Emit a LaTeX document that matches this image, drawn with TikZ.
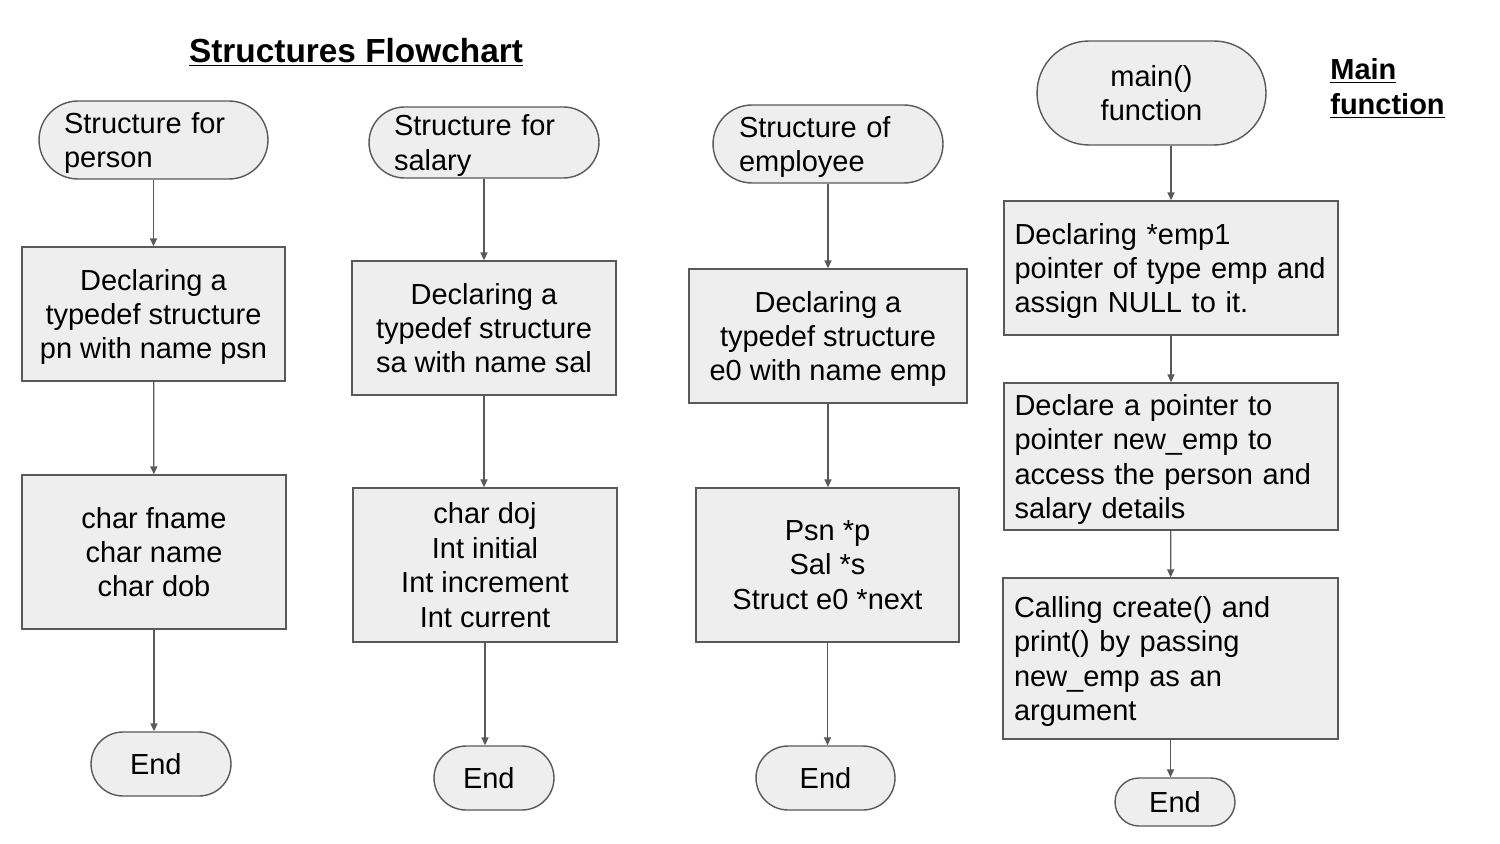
\documentclass[tikz,border=0pt]{standalone}
\usepackage{fontspec}
\setmainfont{Liberation Sans}
\usetikzlibrary{arrows.meta}
\definecolor{boxfill}{HTML}{EEEEEE}
\definecolor{boxline}{HTML}{595959}
\begin{document}
\begin{tikzpicture}[
	x=0.02cm, y=-0.02cm,
	every node/.style={ font=\fontsize{16.5}{19.6}\selectfont },
	terminal/.style={ draw=boxline, fill=boxfill, line width=0.8pt, rounded corners=#1, minimum height={2*#1}, inner sep=0pt, text depth=0pt },
	process/.style={ draw=boxline, fill=boxfill, line width=0.8pt, inner sep=0pt, align=center, text depth=0pt },
	processl/.style={ draw=boxline, fill=boxfill, line width=0.8pt, inner sep=0pt, align=left, text width=6.26cm },
	arrow/.style={ draw=boxline, line width=0.7pt, -{Triangle[length=4.5pt,width=4pt]} }
]
\useasboundingbox (0,0) rectangle (1500,844);

% titles
\node at (356,52) (title) [font=\fontsize{19}{22}\selectfont\bfseries] {\underline{Structures Flowchart}};
\node at (1330,88.5) (maintitle) [anchor=west, align=left, inner sep=0pt] {\bfseries\underline{Main}\\\bfseries\underline{function}};

% structure for person
\node at (153.5,140) (s1) [terminal=0.78cm, minimum width=4.58cm, text width=3.58cm, align=left, text depth=19.6pt] {Structure for\\person};
\node at (153.5,314) (d1) [process, minimum width=5.26cm, minimum height=2.68cm] {Declaring a\\typedef structure\\pn with name psn};
\node at (154,552) (f1) [process, minimum width=5.28cm, minimum height=3.08cm] {char fname\\char name\\char dob};
\node at (161,764) (e1) [terminal=0.64cm, minimum width=2.8cm, text width=1.24cm, align=left] {End};
\draw[arrow] (s1) to (d1);
\draw[arrow] (d1) to (f1);
\draw[arrow] (f1.south) to (f1.south |- e1.north);

% structure for salary
\node at (484,142.5) (s2) [terminal=0.71cm, minimum width=4.6cm, text width=3.6cm, align=left, text depth=19.6pt] {Structure for\\salary};
\node at (484,328) (d2) [process, minimum width=5.28cm, minimum height=2.68cm] {Declaring a\\typedef structure\\sa with name sal};
\node at (485,565) (f2) [process, minimum width=5.28cm, minimum height=3.08cm] {char doj\\Int initial\\Int increment\\Int current};
\node at (494,778) (e2) [terminal=0.64cm, minimum width=2.4cm, text width=1.24cm, align=left] {End};
\draw[arrow] (s2) to (d2);
\draw[arrow] (d2.south) to (d2.south |- f2.north);
\draw[arrow] (f2.south) to (f2.south |- e2.north);

% structure of employee
\node at (828,144) (s3) [terminal=0.78cm, minimum width=4.6cm, text width=3.56cm, align=left, text depth=19.6pt] {Structure of\\employee};
\node at (828,336) (d3) [process, minimum width=5.56cm, minimum height=2.68cm] {Declaring a\\typedef structure\\e0 with name emp};
\node at (827.5,565) (f3) [process, minimum width=5.26cm, minimum height=3.08cm] {Psn *p\\Sal *s\\Struct e0 *next};
\node at (825.5,778) (e3) [terminal=0.64cm, minimum width=2.78cm] {End};
\draw[arrow] (s3) to (d3);
\draw[arrow] (d3.south) to (d3.south |- f3.north);
\draw[arrow] (f3.south) to (f3.south |- e3.north);

% main function
\node at (1151.5,93) (s4) [terminal=1.04cm, minimum width=4.58cm, align=center] {main()\\function};
\node at (1171,268) (m1) [processl, minimum width=6.68cm, minimum height=2.68cm, text depth=39.2pt] {Declaring *emp1\\pointer of type emp and\\assign NULL to it.};
\node at (1171,456.5) (m2) [processl, minimum width=6.68cm, minimum height=2.94cm, text depth=58.8pt] {Declare a pointer to\\pointer new\_emp to\\access the person and\\salary details};
\node at (1170.5,658.5) (m3) [processl, minimum width=6.7cm, minimum height=3.22cm, text depth=58.8pt] {Calling create() and\\print() by passing\\new\_emp as an\\argument};
\node at (1175,802) (e4) [terminal=0.48cm, minimum width=2.4cm] {End};
\draw[arrow] (m1.north |- s4.south) to (m1.north);
\draw[arrow] (m1) to (m2);
\draw[arrow] (m2) to (m3);
\draw[arrow] (m3.south) to (m3.south |- e4.north);

\end{tikzpicture}
\end{document}
